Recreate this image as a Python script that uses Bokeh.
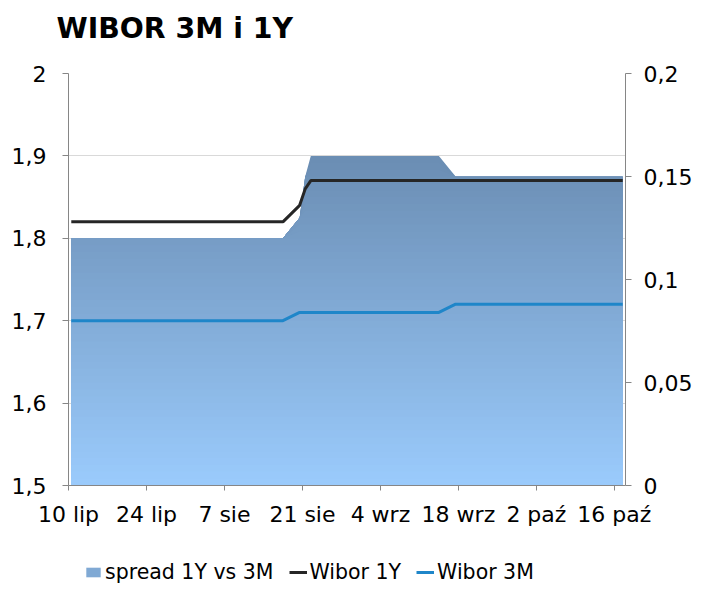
import numpy as np
import pandas as pd
from bokeh.plotting import figure
from bokeh.layouts import column
from bokeh.models import (Range1d, LinearAxis, FixedTicker, CustomJSTickFormatter,
                          Legend, LegendItem, Title)
from bokeh.embed import file_html
from bokeh.resources import INLINE

# ---------------- data ----------------
title_text = "WIBOR 3M i 1Y"
series_names = ["spread 1Y vs 3M", "Wibor 1Y", "Wibor 3M"]
dates = ["2018-07-10", "2018-08-17", "2018-08-20", "2018-08-21",
         "2018-08-22", "2018-09-14", "2018-09-17", "2018-10-17"]
wibor_1y = [1.82, 1.82, 1.84, 1.86, 1.87, 1.87, 1.87, 1.87]
wibor_3m = [1.70, 1.70, 1.71, 1.71, 1.71, 1.71, 1.72, 1.72]
spread = [0.12, 0.12, 0.13, 0.15, 0.16, 0.16, 0.15, 0.15]
x_tick_dates = ["2018-07-10", "2018-07-24", "2018-08-07", "2018-08-21",
                "2018-09-04", "2018-09-18", "2018-10-02", "2018-10-16"]
x_tick_labels = ["10 lip", "24 lip", "7 sie", "21 sie",
                 "4 wrz", "18 wrz", "2 paź", "16 paź"]
x_start_date, x_end_date = "2018-07-10", "2018-10-18"
y_left_ticks = [1.5, 1.6, 1.7, 1.8, 1.9, 2.0]
y_right_ticks = [0, 0.05, 0.1, 0.15, 0.2]

# ---------------- helpers ----------------
def ms(d):
    return pd.Timestamp(d).value / 1e6

HALF_DAY = 12 * 3600 * 1000.0
xs = np.array([ms(d) for d in dates]) + HALF_DAY   # points centred in their day
tick_ms = [ms(d) for d in x_tick_dates]

FONT = "DejaVu Sans"
AXIS_COLOR = "#868686"
COLOR_1Y = "#262626"
COLOR_3M = "#1f86c9"
W, H_MAIN, H_LEG = 702, 540, 51

p = figure(width=W, height=H_MAIN, x_axis_type="datetime", title=None,
           x_range=Range1d(ms(x_start_date), ms(x_end_date)),
           y_range=Range1d(y_left_ticks[0], y_left_ticks[-1]),
           output_backend="svg", toolbar_location=None,
           min_border_left=68, min_border_right=77,
           min_border_top=0, min_border_bottom=55)
p.extra_y_ranges = {"spread": Range1d(y_right_ticks[0], y_right_ticks[-1])}
p.outline_line_color = None
p.background_fill_color = "white"
p.border_fill_color = "white"

# title (a small blank spacer sits between the title and the plot frame)
spacer = Title(text=" ", text_font=FONT, text_font_size="10px", standoff=2)
main_title = Title(text=title_text, text_font=FONT, text_font_style="bold",
                   text_font_size="28.3px", text_color="black", align="left",
                   vertical_align="top", offset=-12, standoff=23)
p.add_layout(spacer, "above")
p.add_layout(main_title, "above")

# grid
p.xgrid.visible = False
p.ygrid.ticker = FixedTicker(ticks=y_left_ticks)
p.ygrid.grid_line_color = "#d9d9d9"
p.ygrid.grid_line_width = 1

# gradient-filled spread area (stacked bands, top colour drawn first)
s = np.array(spread)
n_bands = 48
edges = np.linspace(0, s.max(), n_bands + 1)
c_bottom = np.array([0x9a, 0xcb, 0xfc], dtype=float)
c_top = np.array([0x6b, 0x8d, 0xb3], dtype=float)

def band_color(t):
    rgb = c_bottom + (c_top - c_bottom) * t
    return "#%02x%02x%02x" % tuple(int(round(v)) for v in rgb)

for i in range(n_bands - 1, -1, -1):
    p.varea(x=xs, y1=np.zeros_like(s), y2=np.minimum(s, edges[i + 1]),
            fill_color=band_color((i + 0.5) / n_bands), y_range_name="spread")

p.line(xs, wibor_1y, line_color=COLOR_1Y, line_width=3)
p.line(xs, wibor_3m, line_color=COLOR_3M, line_width=3)

# axes
fmt_comma = CustomJSTickFormatter(code="return tick.toString().replace('.', ',');")

def style_axis(ax, size):
    ax.axis_line_color = AXIS_COLOR
    ax.major_tick_line_color = AXIS_COLOR
    ax.minor_tick_line_color = None
    ax.major_tick_in = 0
    ax.major_tick_out = 6
    ax.major_label_text_font = FONT
    ax.major_label_text_font_size = size
    ax.major_label_text_color = "black"

left = p.left[0]
left.ticker = FixedTicker(ticks=y_left_ticks)
left.formatter = fmt_comma
style_axis(left, "22px")
left.major_label_standoff = 16

right_axis = LinearAxis(y_range_name="spread",
                        ticker=FixedTicker(ticks=y_right_ticks),
                        formatter=fmt_comma)
style_axis(right_axis, "22px")
right_axis.major_label_standoff = 12
p.add_layout(right_axis, "right")

bottom = p.below[0]
bottom.ticker = FixedTicker(ticks=tick_ms)
bottom.formatter = CustomJSTickFormatter(
    args=dict(tick_values=tick_ms, tick_texts=x_tick_labels),
    code="const i = tick_values.indexOf(tick); return i >= 0 ? tick_texts[i] : '';")
style_axis(bottom, "22px")
bottom.major_tick_out = 5
bottom.major_label_standoff = 11

# ---------------- legend strip below the chart ----------------
# The strip's own ranges lie outside the data, so its renderers only feed the legend.
pl = figure(width=W, height=H_LEG, x_range=Range1d(0, 1), y_range=Range1d(0, 1),
            output_backend="svg", toolbar_location=None,
            x_axis_location=None, y_axis_location=None, min_border=0)
pl.outline_line_color = None
pl.xgrid.visible = False
pl.ygrid.visible = False
leg_area = pl.varea(x=xs, y1=np.zeros_like(s), y2=s, fill_color=band_color(0.55))
leg_1y = pl.line(xs, wibor_1y, line_color=COLOR_1Y, line_width=3)
leg_3m = pl.line(xs, wibor_3m, line_color=COLOR_3M, line_width=3)

legend = Legend(items=[LegendItem(label=series_names[0], renderers=[leg_area]),
                       LegendItem(label=series_names[1], renderers=[leg_1y]),
                       LegendItem(label=series_names[2], renderers=[leg_3m])],
                orientation="horizontal", location=(16, 7),
                label_text_font=FONT, label_text_font_size="20.5px",
                label_text_color="black",
                glyph_width=18, glyph_height=12, label_height=20, label_standoff=3,
                spacing=15, padding=0, margin=0,
                border_line_color=None, background_fill_alpha=0)
pl.add_layout(legend, "center")

layout = column(p, pl, spacing=0)
open("out.html", "w").write(file_html(layout, INLINE))
